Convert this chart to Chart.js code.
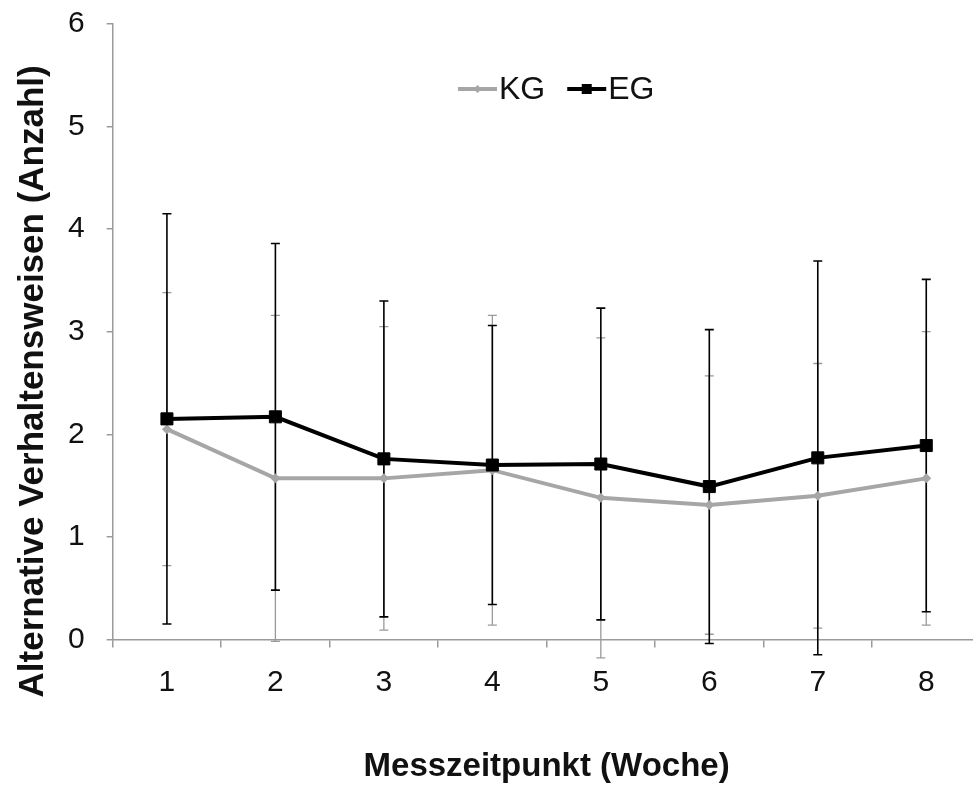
<!DOCTYPE html>
<html>
<head>
<meta charset="utf-8">
<script src="https://cdn.jsdelivr.net/npm/chart.js@4/dist/chart.umd.min.js"></script>
<style>
  html,body{margin:0;padding:0;background:#fff;overflow:hidden;}
  #wrap{position:absolute;left:0;top:0;width:990px;height:787px;}
</style>
</head>
<body>
<div id="wrap"><canvas id="c" width="990" height="787"></canvas></div>
<script>
// Messzeitpunkte (Woche)
const weeks = ['1','2','3','4','5','6','7','8'];
// Kontrollgruppe
const kgMean = [2.05, 1.57, 1.57, 1.65, 1.38, 1.31, 1.40, 1.57];
const kgSD   = [1.33, 1.59, 1.48, 1.51, 1.56, 1.26, 1.29, 1.43];
// Experimentalgruppe
const egMean = [2.15, 2.17, 1.76, 1.70, 1.71, 1.49, 1.77, 1.89];
const egSD   = [2.00, 1.69, 1.54, 1.36, 1.52, 1.53, 1.92, 1.62];
const yTicks = [0,1,2,3,4,5,6];

const FONT = '"Liberation Sans", Arial, sans-serif';
const GREY = '#a6a6a6';

// error bars (mean ± SD), drawn under the lines
const errorBars = {
  id:'errorBars',
  beforeDatasetsDraw(chart){
    const {ctx, scales:{y}} = chart;
    const cap = 4.5;
    // grey first, black on top
    [0,1].forEach(di=>{
      const ds = chart.data.datasets[di];
      const meta = chart.getDatasetMeta(di);
      ctx.save();
      ctx.strokeStyle = ds.errColor;
      ctx.lineWidth = ds.errWidth;
      meta.data.forEach((pt,i)=>{
        const x = pt.x;
        const top = y.getPixelForValue(ds.data[i] + ds.sd[i]);
        const bot = y.getPixelForValue(ds.data[i] - ds.sd[i]);
        ctx.beginPath();
        ctx.moveTo(x, top); ctx.lineTo(x, bot);
        ctx.moveTo(x-cap, top); ctx.lineTo(x+cap, top);
        ctx.moveTo(x-cap, bot); ctx.lineTo(x+cap, bot);
        ctx.stroke();
      });
      ctx.restore();
    });
  }
};

// legend inside plot: line + marker + label
const inLegend = {
  id:'inLegend',
  afterDraw(chart){
    const {ctx} = chart;
    let x = 458; const yc = 89;
    ctx.save();
    ctx.font = '32px ' + FONT;
    ctx.textBaseline = 'middle';
    chart.data.datasets.forEach(ds=>{
      ctx.strokeStyle = ds.borderColor; ctx.lineWidth = 4;
      ctx.beginPath(); ctx.moveTo(x, yc); ctx.lineTo(x+39, yc); ctx.stroke();
      ctx.fillStyle = ds.pointBackgroundColor;
      const mx = x + 19.5;
      if (ds.pointStyle === 'rect'){ ctx.fillRect(mx-5, yc-5, 10, 10); }
      else { ctx.beginPath(); ctx.moveTo(mx, yc-4); ctx.lineTo(mx+4, yc); ctx.lineTo(mx, yc+4); ctx.lineTo(mx-4, yc); ctx.closePath(); ctx.fill(); }
      ctx.fillStyle = '#111';
      ctx.fillText(ds.label, x+41, yc+1);
      x += 41 + ctx.measureText(ds.label).width + 22;
    });
    ctx.restore();
  }
};

// rotated y title, placed like the original
const yTitle = {
  id:'yTitle',
  afterDraw(chart){
    const {ctx, chartArea} = chart;
    ctx.save();
    ctx.translate(33, chartArea.bottom - 258);
    ctx.rotate(-Math.PI/2);
    ctx.font = 'bold 35px ' + FONT;
    ctx.fillStyle = '#111';
    ctx.textAlign = 'center';
    ctx.textBaseline = 'middle';
    ctx.fillText('Alternative Verhaltensweisen (Anzahl)', 0, 0);
    ctx.restore();
  }
};

new Chart(document.getElementById('c'), {
  type:'line',
  data:{
    labels: weeks,
    datasets:[
      {label:'KG', data:kgMean, sd:kgSD, errColor:'#9a9a9a', errWidth:1.3,
       borderColor:GREY, backgroundColor:GREY, borderWidth:4,
       pointStyle:'rectRot', pointRadius:5, pointBackgroundColor:GREY, pointBorderColor:GREY, pointBorderWidth:0,
       tension:0, order:1},
      {label:'EG', data:egMean, sd:egSD, errColor:'#000', errWidth:1.6,
       borderColor:'#000', backgroundColor:'#000', borderWidth:4,
       pointStyle:'rect', pointRadius:8.5, pointBackgroundColor:'#000', pointBorderColor:'#000', pointBorderWidth:1,
       tension:0, order:0}
    ]
  },
  options:{
    responsive:false,
    animation:false,
    layout:{padding:{left:46, right:9, top:24, bottom:0}},
    plugins:{legend:{display:false}, tooltip:{enabled:false}},
    scales:{
      x:{
        offset:true,
        grid:{offset:true, drawOnChartArea:false, drawTicks:true, tickLength:8, color:'#9a9a9a', lineWidth:1.5},
        border:{color:'#9a9a9a', width:1.5},
        ticks:{font:{family:FONT, size:30}, color:'#111', padding:17},
        title:{display:true, text:'Messzeitpunkt (Woche)', font:{family:FONT, size:33, weight:'bold'}, color:'#111', padding:{top:30, bottom:0}}
      },
      y:{
        min:0, max:6,
        afterBuildTicks: s => { s.ticks = yTicks.map(v=>({value:v})); },
        afterFit: s => { s.paddingTop = 0; s.paddingBottom = 0; },
        grid:{drawOnChartArea:false, drawTicks:true, tickLength:6, color:'#9a9a9a', lineWidth:1.5},
        border:{color:'#9a9a9a', width:1.5},
        ticks:{font:{family:FONT, size:30}, color:'#111', padding:22}
      }
    }
  },
  plugins:[errorBars, inLegend, yTitle]
});
</script>
</body>
</html>
